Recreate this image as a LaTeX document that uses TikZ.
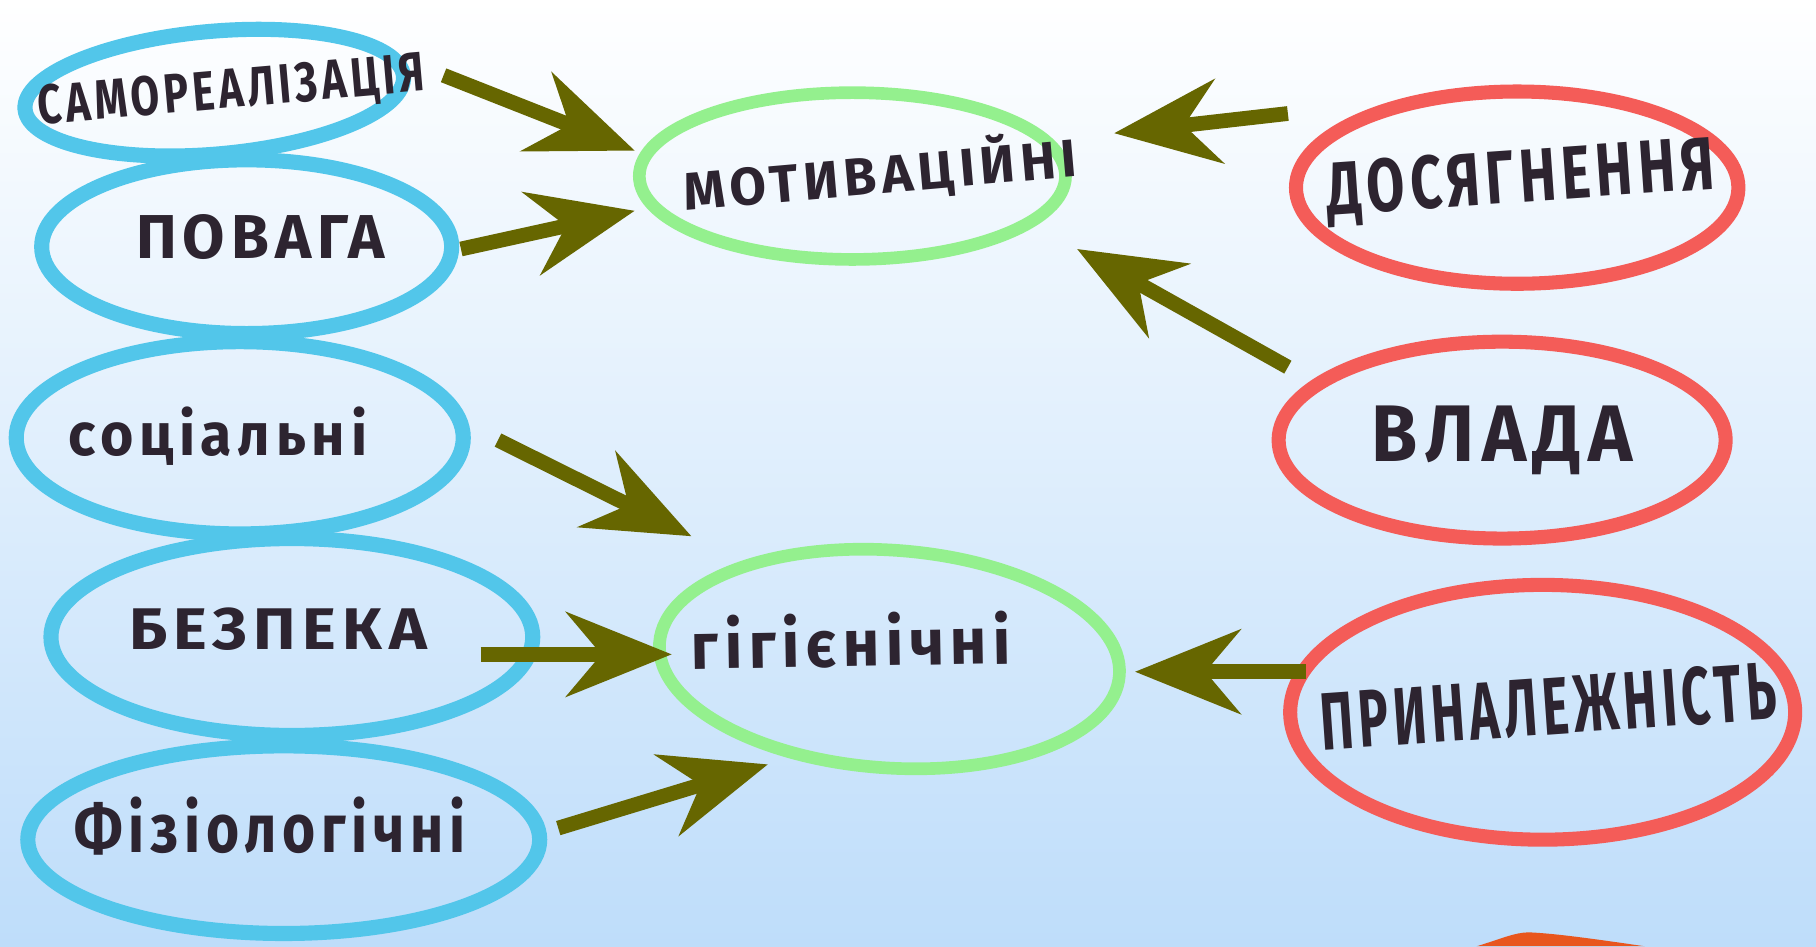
\documentclass[tikz,border=0pt]{standalone}
\usepackage{fontspec}
\setmainfont{Fira Sans}
\newfontfamily\hand[LetterSpace=10]{Fira Sans}
\usetikzlibrary{shapes.geometric,arrows.meta}
\newlength\pxu \setlength\pxu{0.0115816cm}
\newcommand\hw[3]{\resizebox{#1\pxu}{#2\pxu}{\hand\bfseries #3}}
\definecolor{bluem}{RGB}{82,198,234}
\definecolor{greenm}{RGB}{148,240,142}
\definecolor{redm}{RGB}{244,92,88}
\definecolor{arrcol}{RGB}{102,102,0}
\definecolor{ink}{RGB}{45,36,48}
\definecolor{bgbot}{RGB}{190,221,250}
\definecolor{orangem}{RGB}{232,86,30}
\begin{document}
\begin{tikzpicture}[x=0.0115816cm, y=-0.0115816cm,
  ellb/.style={ellipse, draw=bluem, line width=4.3pt, inner sep=0pt},
  ellg/.style={ellipse, draw=greenm, line width=3.6pt, inner sep=0pt},
  ellr/.style={ellipse, draw=redm, line width=4pt, inner sep=0pt},
  txt/.style={text=ink, inner sep=0pt},
  arr/.style={draw=arrcol, line width=4.2pt, -{Stealth[length=30pt, width=24pt, inset=10pt]}}]
\useasboundingbox (0,0) rectangle (1568,817);
\shade[top color=white, bottom color=bgbot] (0,0) rectangle (1568,817);
\fill[orangem] (1275,817) .. controls (1295,811) and (1308,805) .. (1320,805) .. controls (1345,806) and (1385,812) .. (1420,817) -- cycle;
% blue ellipses
\node[ellb, minimum width=328\pxu, minimum height=106\pxu, rotate=5] (samo) at (185,80) {};
\node[ellb, minimum width=354\pxu, minimum height=150\pxu] (pova) at (213,213) {};
\node[ellb, minimum width=386\pxu, minimum height=166\pxu] (soci) at (207,378) {};
\node[ellb, minimum width=416\pxu, minimum height=170\pxu] (bezp) at (252,550) {};
\node[ellb, minimum width=442\pxu, minimum height=162\pxu] (fizi) at (245,725) {};
% green ellipses
\node[ellg, minimum width=368\pxu, minimum height=144\pxu] (moti) at (736,152) {};
\node[ellg, minimum width=398\pxu, minimum height=188\pxu, rotate=-4] (gigi) at (768,569) {};
% red ellipses
\node[ellr, minimum width=382\pxu, minimum height=166\pxu] (dosi) at (1310,162) {};
\node[ellr, minimum width=386\pxu, minimum height=170\pxu] (vlad) at (1297,380) {};
\node[ellr, minimum width=436\pxu, minimum height=220\pxu] (prin) at (1332,615) {};
% texts
\node[txt, rotate=5] (samot) at (200,80) {\hw{335}{34}{САМОРЕАЛІЗАЦІЯ}};
\node[txt] (povat) at (225,205) {\hw{215}{38}{ПОВАГА}};
\node[txt] (socit) at (188,377) {\hw{258}{42}{соціальні}};
\node[txt] (bezpt) at (240,543) {\hw{257}{36}{БЕЗПЕКА}};
\node[txt] (fizit) at (233,713) {\hw{337}{48}{Фізіологічні}};
\node[txt, rotate=5] (motit) at (760,150) {\hw{340}{42}{МОТИВАЦІЙНІ}};
\node[txt, rotate=1] (gigit) at (735,553) {\hw{276}{46}{гігієнічні}};
\node[txt, rotate=4] (dosit) at (1313,157) {\hw{335}{46}{ДОСЯГНЕННЯ}};
\node[txt] (vladt) at (1297,380) {\hw{225}{48}{ВЛАДА}};
\node[txt, rotate=4] (print) at (1337,610) {\hw{395}{50}{ПРИНАЛЕЖНІСТЬ}};
% arrow ends
\coordinate (a1s) at (383,65);   \coordinate (a1e) at (548,130);
\coordinate (a2s) at (398,215);  \coordinate (a2e) at (548,182);
\coordinate (a3s) at (1112,98);  \coordinate (a3e) at (962,115);
\coordinate (a4s) at (1112,317); \coordinate (a4e) at (930,215);
\coordinate (a5s) at (430,380);  \coordinate (a5e) at (597,463);
\coordinate (a6s) at (415,565);  \coordinate (a6e) at (580,565);
\coordinate (a7s) at (482,715);  \coordinate (a7e) at (663,660);
\coordinate (a8s) at (1128,580); \coordinate (a8e) at (980,580);
\draw[arr] (a1s) -- (a1e);
\draw[arr] (a2s) -- (a2e);
\draw[arr] (a3s) -- (a3e);
\draw[arr] (a4s) -- (a4e);
\draw[arr] (a5s) -- (a5e);
\draw[arr] (a6s) -- (a6e);
\draw[arr] (a7s) -- (a7e);
\draw[arr] (a8s) -- (a8e);
\end{tikzpicture}
\end{document}
